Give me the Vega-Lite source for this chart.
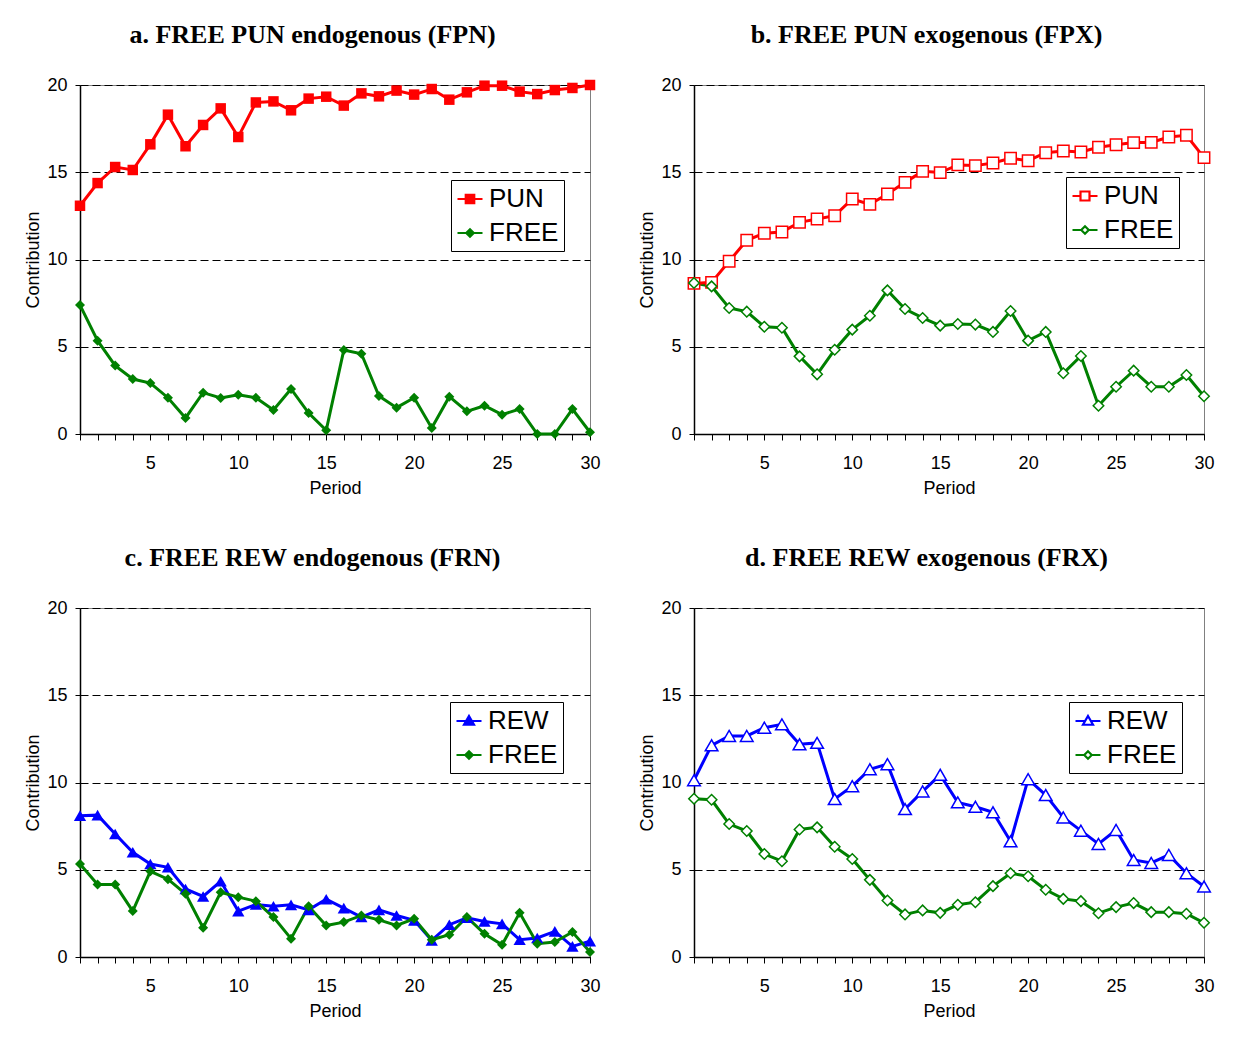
{
  "$schema": "https://vega.github.io/schema/vega-lite/v6.json",
  "padding": {"left": 24, "top": 21, "right": 10, "bottom": 10},
  "background": "white",
  "datasets": {
    "fpn": [
      {"p":1,"s":"PUN","v":13.08},{"p":2,"s":"PUN","v":14.38},{"p":3,"s":"PUN","v":15.3},{"p":4,"s":"PUN","v":15.13},{"p":5,"s":"PUN","v":16.6},{"p":6,"s":"PUN","v":18.3},{"p":7,"s":"PUN","v":16.49},{"p":8,"s":"PUN","v":17.71},{"p":9,"s":"PUN","v":18.66},{"p":10,"s":"PUN","v":17.02},
      {"p":11,"s":"PUN","v":19.0},{"p":12,"s":"PUN","v":19.06},{"p":13,"s":"PUN","v":18.55},{"p":14,"s":"PUN","v":19.22},{"p":15,"s":"PUN","v":19.33},{"p":16,"s":"PUN","v":18.82},{"p":17,"s":"PUN","v":19.52},{"p":18,"s":"PUN","v":19.35},{"p":19,"s":"PUN","v":19.68},{"p":20,"s":"PUN","v":19.45},
      {"p":21,"s":"PUN","v":19.77},{"p":22,"s":"PUN","v":19.16},{"p":23,"s":"PUN","v":19.58},{"p":24,"s":"PUN","v":19.96},{"p":25,"s":"PUN","v":19.96},{"p":26,"s":"PUN","v":19.62},{"p":27,"s":"PUN","v":19.48},{"p":28,"s":"PUN","v":19.71},{"p":29,"s":"PUN","v":19.83},{"p":30,"s":"PUN","v":20.0},
      {"p":1,"s":"FREE","v":7.39},{"p":2,"s":"FREE","v":5.35},{"p":3,"s":"FREE","v":3.92},{"p":4,"s":"FREE","v":3.15},{"p":5,"s":"FREE","v":2.92},{"p":6,"s":"FREE","v":2.08},{"p":7,"s":"FREE","v":0.92},{"p":8,"s":"FREE","v":2.37},{"p":9,"s":"FREE","v":2.06},{"p":10,"s":"FREE","v":2.25},
      {"p":11,"s":"FREE","v":2.08},{"p":12,"s":"FREE","v":1.38},{"p":13,"s":"FREE","v":2.58},{"p":14,"s":"FREE","v":1.2},{"p":15,"s":"FREE","v":0.21},{"p":16,"s":"FREE","v":4.81},{"p":17,"s":"FREE","v":4.6},{"p":18,"s":"FREE","v":2.18},{"p":19,"s":"FREE","v":1.51},{"p":20,"s":"FREE","v":2.08},
      {"p":21,"s":"FREE","v":0.34},{"p":22,"s":"FREE","v":2.14},{"p":23,"s":"FREE","v":1.3},{"p":24,"s":"FREE","v":1.62},{"p":25,"s":"FREE","v":1.11},{"p":26,"s":"FREE","v":1.43},{"p":27,"s":"FREE","v":0},{"p":28,"s":"FREE","v":0},{"p":29,"s":"FREE","v":1.43},{"p":30,"s":"FREE","v":0.1}
    ],
    "fpx": [
      {"p":1,"s":"PUN","v":8.63},{"p":2,"s":"PUN","v":8.69},{"p":3,"s":"PUN","v":9.9},{"p":4,"s":"PUN","v":11.1},{"p":5,"s":"PUN","v":11.5},{"p":6,"s":"PUN","v":11.58},{"p":7,"s":"PUN","v":12.13},{"p":8,"s":"PUN","v":12.32},{"p":9,"s":"PUN","v":12.51},{"p":10,"s":"PUN","v":13.47},
      {"p":11,"s":"PUN","v":13.16},{"p":12,"s":"PUN","v":13.75},{"p":13,"s":"PUN","v":14.42},{"p":14,"s":"PUN","v":15.05},{"p":15,"s":"PUN","v":14.98},{"p":16,"s":"PUN","v":15.42},{"p":17,"s":"PUN","v":15.38},{"p":18,"s":"PUN","v":15.53},{"p":19,"s":"PUN","v":15.8},{"p":20,"s":"PUN","v":15.66},
      {"p":21,"s":"PUN","v":16.12},{"p":22,"s":"PUN","v":16.22},{"p":23,"s":"PUN","v":16.16},{"p":24,"s":"PUN","v":16.43},{"p":25,"s":"PUN","v":16.58},{"p":26,"s":"PUN","v":16.7},{"p":27,"s":"PUN","v":16.71},{"p":28,"s":"PUN","v":17.02},{"p":29,"s":"PUN","v":17.12},{"p":30,"s":"PUN","v":15.84},
      {"p":1,"s":"FREE","v":8.65},{"p":2,"s":"FREE","v":8.46},{"p":3,"s":"FREE","v":7.22},{"p":4,"s":"FREE","v":7.01},{"p":5,"s":"FREE","v":6.15},{"p":6,"s":"FREE","v":6.09},{"p":7,"s":"FREE","v":4.45},{"p":8,"s":"FREE","v":3.42},{"p":9,"s":"FREE","v":4.83},{"p":10,"s":"FREE","v":5.98},
      {"p":11,"s":"FREE","v":6.78},{"p":12,"s":"FREE","v":8.23},{"p":13,"s":"FREE","v":7.16},{"p":14,"s":"FREE","v":6.65},{"p":15,"s":"FREE","v":6.21},{"p":16,"s":"FREE","v":6.3},{"p":17,"s":"FREE","v":6.27},{"p":18,"s":"FREE","v":5.85},{"p":19,"s":"FREE","v":7.05},{"p":20,"s":"FREE","v":5.35},
      {"p":21,"s":"FREE","v":5.85},{"p":22,"s":"FREE","v":3.48},{"p":23,"s":"FREE","v":4.47},{"p":24,"s":"FREE","v":1.62},{"p":25,"s":"FREE","v":2.71},{"p":26,"s":"FREE","v":3.63},{"p":27,"s":"FREE","v":2.71},{"p":28,"s":"FREE","v":2.71},{"p":29,"s":"FREE","v":3.38},{"p":30,"s":"FREE","v":2.16}
    ],
    "frn": [
      {"p":1,"s":"REW","v":8.1},{"p":2,"s":"REW","v":8.13},{"p":3,"s":"REW","v":7.05},{"p":4,"s":"REW","v":6.0},{"p":5,"s":"REW","v":5.33},{"p":6,"s":"REW","v":5.14},{"p":7,"s":"REW","v":3.9},{"p":8,"s":"REW","v":3.47},{"p":9,"s":"REW","v":4.34},{"p":10,"s":"REW","v":2.63},
      {"p":11,"s":"REW","v":3.01},{"p":12,"s":"REW","v":2.91},{"p":13,"s":"REW","v":2.99},{"p":14,"s":"REW","v":2.7},{"p":15,"s":"REW","v":3.31},{"p":16,"s":"REW","v":2.8},{"p":17,"s":"REW","v":2.29},{"p":18,"s":"REW","v":2.7},{"p":19,"s":"REW","v":2.38},{"p":20,"s":"REW","v":2.1},
      {"p":21,"s":"REW","v":0.95},{"p":22,"s":"REW","v":1.85},{"p":23,"s":"REW","v":2.25},{"p":24,"s":"REW","v":2.04},{"p":25,"s":"REW","v":1.9},{"p":26,"s":"REW","v":0.99},{"p":27,"s":"REW","v":1.09},{"p":28,"s":"REW","v":1.47},{"p":29,"s":"REW","v":0.61},{"p":30,"s":"REW","v":0.91},
      {"p":1,"s":"FREE","v":5.33},{"p":2,"s":"FREE","v":4.15},{"p":3,"s":"FREE","v":4.15},{"p":4,"s":"FREE","v":2.63},{"p":5,"s":"FREE","v":4.91},{"p":6,"s":"FREE","v":4.46},{"p":7,"s":"FREE","v":3.62},{"p":8,"s":"FREE","v":1.68},{"p":9,"s":"FREE","v":3.71},{"p":10,"s":"FREE","v":3.43},
      {"p":11,"s":"FREE","v":3.2},{"p":12,"s":"FREE","v":2.29},{"p":13,"s":"FREE","v":1.05},{"p":14,"s":"FREE","v":2.91},{"p":15,"s":"FREE","v":1.8},{"p":16,"s":"FREE","v":2.0},{"p":17,"s":"FREE","v":2.38},{"p":18,"s":"FREE","v":2.13},{"p":19,"s":"FREE","v":1.81},{"p":20,"s":"FREE","v":2.19},
      {"p":21,"s":"FREE","v":0.99},{"p":22,"s":"FREE","v":1.28},{"p":23,"s":"FREE","v":2.29},{"p":24,"s":"FREE","v":1.33},{"p":25,"s":"FREE","v":0.7},{"p":26,"s":"FREE","v":2.53},{"p":27,"s":"FREE","v":0.76},{"p":28,"s":"FREE","v":0.86},{"p":29,"s":"FREE","v":1.43},{"p":30,"s":"FREE","v":0.29}
    ],
    "frx": [
      {"p":1,"s":"REW","v":10.13},{"p":2,"s":"REW","v":12.13},{"p":3,"s":"REW","v":12.67},{"p":4,"s":"REW","v":12.67},{"p":5,"s":"REW","v":13.14},{"p":6,"s":"REW","v":13.33},{"p":7,"s":"REW","v":12.19},{"p":8,"s":"REW","v":12.27},{"p":9,"s":"REW","v":9.05},{"p":10,"s":"REW","v":9.79},
      {"p":11,"s":"REW","v":10.76},{"p":12,"s":"REW","v":11.05},{"p":13,"s":"REW","v":8.48},{"p":14,"s":"REW","v":9.49},{"p":15,"s":"REW","v":10.44},{"p":16,"s":"REW","v":8.86},{"p":17,"s":"REW","v":8.61},{"p":18,"s":"REW","v":8.29},{"p":19,"s":"REW","v":6.63},{"p":20,"s":"REW","v":10.19},
      {"p":21,"s":"REW","v":9.28},{"p":22,"s":"REW","v":8.0},{"p":23,"s":"REW","v":7.24},{"p":24,"s":"REW","v":6.48},{"p":25,"s":"REW","v":7.28},{"p":26,"s":"REW","v":5.56},{"p":27,"s":"REW","v":5.39},{"p":28,"s":"REW","v":5.85},{"p":29,"s":"REW","v":4.8},{"p":30,"s":"REW","v":4.04},
      {"p":1,"s":"FREE","v":9.07},{"p":2,"s":"FREE","v":9.01},{"p":3,"s":"FREE","v":7.62},{"p":4,"s":"FREE","v":7.22},{"p":5,"s":"FREE","v":5.9},{"p":6,"s":"FREE","v":5.49},{"p":7,"s":"FREE","v":7.31},{"p":8,"s":"FREE","v":7.43},{"p":9,"s":"FREE","v":6.32},{"p":10,"s":"FREE","v":5.62},
      {"p":11,"s":"FREE","v":4.42},{"p":12,"s":"FREE","v":3.24},{"p":13,"s":"FREE","v":2.44},{"p":14,"s":"FREE","v":2.67},{"p":15,"s":"FREE","v":2.53},{"p":16,"s":"FREE","v":2.99},{"p":17,"s":"FREE","v":3.14},{"p":18,"s":"FREE","v":4.06},{"p":19,"s":"FREE","v":4.8},{"p":20,"s":"FREE","v":4.63},
      {"p":21,"s":"FREE","v":3.85},{"p":22,"s":"FREE","v":3.33},{"p":23,"s":"FREE","v":3.2},{"p":24,"s":"FREE","v":2.51},{"p":25,"s":"FREE","v":2.86},{"p":26,"s":"FREE","v":3.09},{"p":27,"s":"FREE","v":2.57},{"p":28,"s":"FREE","v":2.57},{"p":29,"s":"FREE","v":2.48},{"p":30,"s":"FREE","v":1.96}
    ]
  },
  "spacing": 46,
  "resolve": {"scale": {"fill": "independent", "stroke": "independent", "shape": "independent"}, "legend": {"fill": "independent", "stroke": "independent", "shape": "independent"}},
  "vconcat": [
    {
      "spacing": 37,
      "resolve": {"scale": {"fill": "independent", "stroke": "independent", "shape": "independent"}, "legend": {"fill": "independent", "stroke": "independent", "shape": "independent"}},
      "hconcat": [
        {
          "title": "a. FREE PUN endogenous (FPN)",
          "width": 510, "height": 349,
          "data": {"name": "fpn"},
          "encoding": {
            "x": {"field": "p", "type": "quantitative", "title": "Period", "scale": {"domain": [1, 30], "nice": false, "zero": false},
                  "axis": {"values": [1,2,3,4,5,6,7,8,9,10,11,12,13,14,15,16,17,18,19,20,21,22,23,24,25,26,27,28,29,30], "labelExpr": "datum.value % 5 === 0 ? datum.label : ''"}},
            "y": {"field": "v", "type": "quantitative", "title": "Contribution", "scale": {"domain": [0, 20], "nice": false}, "axis": {"values": [0, 5, 10, 15, 20]}}
          },
          "layer": [
            {"transform": [{"filter": "datum.s === 'FREE'"}], "mark": {"type": "line", "strokeWidth": 3, "color": "#008000"}, "encoding": {}},
            {"transform": [{"filter": "datum.s === 'PUN'"}], "mark": {"type": "line", "strokeWidth": 3, "color": "#ff0000"}, "encoding": {}},
            {"transform": [{"filter": "datum.s === 'PUN'"}], "mark": {"type": "point", "shape": "square", "filled": true, "color": "#ff0000", "size": 110, "opacity": 1}},
            {"transform": [{"filter": "datum.s === 'FREE'"}], "mark": {"type": "point", "shape": "diamond", "filled": true, "color": "#008000", "size": 100, "opacity": 1}},
            {"mark": {"type": "point", "filled": true, "size": 0, "strokeWidth": 2.2, "opacity": 1},
             "encoding": {
               "fill": {"field": "s", "type": "nominal", "scale": {"domain": ["PUN", "FREE"], "range": ["#ff0000", "#008000"]},
                        "legend": {"title": null, "orient": "none", "legendX": 371, "legendY": 95, "symbolSize": 625, "symbolOpacity": 1}},
               "stroke": {"field": "s", "type": "nominal", "scale": {"domain": ["PUN", "FREE"], "range": ["#ff0000", "#008000"]},
                        "legend": {"title": null, "orient": "none", "legendX": 371, "legendY": 95, "symbolSize": 625, "symbolOpacity": 1}},
               "shape": {"field": "s", "type": "nominal", "scale": {"domain": ["PUN", "FREE"], "range": ["M-1,0H1M-0.34,-0.34H0.34V0.34H-0.34Z", "M-1,0H1M0,-0.3L0.3,0L0,0.3L-0.3,0Z"]},
                        "legend": {"title": null, "orient": "none", "legendX": 371, "legendY": 95, "symbolSize": 625, "symbolOpacity": 1}}
             }}
          ]
        },
        {
          "title": "b. FREE PUN exogenous (FPX)",
          "width": 510, "height": 349,
          "data": {"name": "fpx"},
          "encoding": {
            "x": {"field": "p", "type": "quantitative", "title": "Period", "scale": {"domain": [1, 30], "nice": false, "zero": false},
                  "axis": {"values": [1,2,3,4,5,6,7,8,9,10,11,12,13,14,15,16,17,18,19,20,21,22,23,24,25,26,27,28,29,30], "labelExpr": "datum.value % 5 === 0 ? datum.label : ''"}},
            "y": {"field": "v", "type": "quantitative", "title": "Contribution", "scale": {"domain": [0, 20], "nice": false}, "axis": {"values": [0, 5, 10, 15, 20]}}
          },
          "layer": [
            {"transform": [{"filter": "datum.s === 'FREE'"}], "mark": {"type": "line", "strokeWidth": 3, "color": "#008000"}, "encoding": {}},
            {"transform": [{"filter": "datum.s === 'PUN'"}], "mark": {"type": "line", "strokeWidth": 3, "color": "#ff0000"}, "encoding": {}},
            {"transform": [{"filter": "datum.s === 'PUN'"}], "mark": {"type": "point", "shape": "square", "filled": false, "fill": "white", "stroke": "#ff0000", "strokeWidth": 1.5, "size": 130, "opacity": 1}},
            {"transform": [{"filter": "datum.s === 'FREE'"}], "mark": {"type": "point", "shape": "diamond", "filled": false, "fill": "white", "stroke": "#008000", "strokeWidth": 1.5, "size": 110, "opacity": 1}},
            {"mark": {"type": "point", "filled": false, "fill": "white", "size": 0, "strokeWidth": 2, "opacity": 1},
             "encoding": {
               "stroke": {"field": "s", "type": "nominal", "scale": {"domain": ["PUN", "FREE"], "range": ["#ff0000", "#008000"]},
                        "legend": {"title": null, "orient": "none", "legendX": 372, "legendY": 92, "symbolSize": 625, "symbolOpacity": 1, "symbolFillColor": "white"}},
               "shape": {"field": "s", "type": "nominal", "scale": {"domain": ["PUN", "FREE"], "range": ["M-1,0H-0.36M0.36,0H1M-0.36,-0.36H0.36V0.36H-0.36Z", "M-1,0H-0.3M0.3,0H1M0,-0.3L0.3,0L0,0.3L-0.3,0Z"]},
                        "legend": {"title": null, "orient": "none", "legendX": 372, "legendY": 92, "symbolSize": 625, "symbolOpacity": 1, "symbolFillColor": "white"}}
             }}
          ]
        }
      ]
    },
    {
      "spacing": 37,
      "resolve": {"scale": {"fill": "independent", "stroke": "independent", "shape": "independent"}, "legend": {"fill": "independent", "stroke": "independent", "shape": "independent"}},
      "hconcat": [
        {
          "title": "c. FREE REW endogenous (FRN)",
          "width": 510, "height": 349,
          "data": {"name": "frn"},
          "encoding": {
            "x": {"field": "p", "type": "quantitative", "title": "Period", "scale": {"domain": [1, 30], "nice": false, "zero": false},
                  "axis": {"values": [1,2,3,4,5,6,7,8,9,10,11,12,13,14,15,16,17,18,19,20,21,22,23,24,25,26,27,28,29,30], "labelExpr": "datum.value % 5 === 0 ? datum.label : ''"}},
            "y": {"field": "v", "type": "quantitative", "title": "Contribution", "scale": {"domain": [0, 20], "nice": false}, "axis": {"values": [0, 5, 10, 15, 20]}}
          },
          "layer": [
            {"transform": [{"filter": "datum.s === 'REW'"}], "mark": {"type": "line", "strokeWidth": 3, "color": "#0000ff"}, "encoding": {}},
            {"transform": [{"filter": "datum.s === 'FREE'"}], "mark": {"type": "line", "strokeWidth": 3, "color": "#008000"}, "encoding": {}},
            {"transform": [{"filter": "datum.s === 'REW'"}], "mark": {"type": "point", "shape": "triangle-up", "filled": true, "color": "#0000ff", "size": 150, "opacity": 1}},
            {"transform": [{"filter": "datum.s === 'FREE'"}], "mark": {"type": "point", "shape": "diamond", "filled": true, "color": "#008000", "size": 100, "opacity": 1}},
            {"mark": {"type": "point", "filled": true, "size": 0, "strokeWidth": 2.2, "opacity": 1},
             "encoding": {
               "fill": {"field": "s", "type": "nominal", "scale": {"domain": ["REW", "FREE"], "range": ["#0000ff", "#008000"]},
                        "legend": {"title": null, "orient": "none", "legendX": 370, "legendY": 94, "symbolSize": 625, "symbolOpacity": 1}},
               "stroke": {"field": "s", "type": "nominal", "scale": {"domain": ["REW", "FREE"], "range": ["#0000ff", "#008000"]},
                        "legend": {"title": null, "orient": "none", "legendX": 370, "legendY": 94, "symbolSize": 625, "symbolOpacity": 1}},
               "shape": {"field": "s", "type": "nominal", "scale": {"domain": ["REW", "FREE"], "range": ["M-1,0H1M0,-0.4L0.4,0.3H-0.4Z", "M-1,0H1M0,-0.3L0.3,0L0,0.3L-0.3,0Z"]},
                        "legend": {"title": null, "orient": "none", "legendX": 370, "legendY": 94, "symbolSize": 625, "symbolOpacity": 1}}
             }}
          ]
        },
        {
          "title": "d. FREE REW exogenous (FRX)",
          "width": 510, "height": 349,
          "data": {"name": "frx"},
          "encoding": {
            "x": {"field": "p", "type": "quantitative", "title": "Period", "scale": {"domain": [1, 30], "nice": false, "zero": false},
                  "axis": {"values": [1,2,3,4,5,6,7,8,9,10,11,12,13,14,15,16,17,18,19,20,21,22,23,24,25,26,27,28,29,30], "labelExpr": "datum.value % 5 === 0 ? datum.label : ''"}},
            "y": {"field": "v", "type": "quantitative", "title": "Contribution", "scale": {"domain": [0, 20], "nice": false}, "axis": {"values": [0, 5, 10, 15, 20]}}
          },
          "layer": [
            {"transform": [{"filter": "datum.s === 'FREE'"}], "mark": {"type": "line", "strokeWidth": 3, "color": "#008000"}, "encoding": {}},
            {"transform": [{"filter": "datum.s === 'REW'"}], "mark": {"type": "line", "strokeWidth": 3, "color": "#0000ff"}, "encoding": {}},
            {"transform": [{"filter": "datum.s === 'REW'"}], "mark": {"type": "point", "shape": "triangle-up", "filled": false, "fill": "white", "stroke": "#0000ff", "strokeWidth": 1.5, "size": 160, "opacity": 1}},
            {"transform": [{"filter": "datum.s === 'FREE'"}], "mark": {"type": "point", "shape": "diamond", "filled": false, "fill": "white", "stroke": "#008000", "strokeWidth": 1.5, "size": 110, "opacity": 1}},
            {"mark": {"type": "point", "filled": false, "fill": "white", "size": 0, "strokeWidth": 2, "opacity": 1},
             "encoding": {
               "stroke": {"field": "s", "type": "nominal", "scale": {"domain": ["REW", "FREE"], "range": ["#0000ff", "#008000"]},
                        "legend": {"title": null, "orient": "none", "legendX": 375, "legendY": 94, "symbolSize": 625, "symbolOpacity": 1, "symbolFillColor": "white"}},
               "shape": {"field": "s", "type": "nominal", "scale": {"domain": ["REW", "FREE"], "range": ["M-1,0H-0.22M0.22,0H1M0,-0.4L0.4,0.3H-0.4Z", "M-1,0H-0.3M0.3,0H1M0,-0.3L0.3,0L0,0.3L-0.3,0Z"]},
                        "legend": {"title": null, "orient": "none", "legendX": 375, "legendY": 94, "symbolSize": 625, "symbolOpacity": 1, "symbolFillColor": "white"}}
             }}
          ]
        }
      ]
    }
  ],
  "config": {
    "font": "Liberation Sans",
    "view": {"stroke": "#808080", "strokeWidth": 1},
    "title": {"font": "Liberation Serif", "fontSize": 26, "fontWeight": "bold", "color": "black", "frame": "bounds", "anchor": "middle", "offset": 28},
    "axis": {"labelFont": "Liberation Sans", "labelFontSize": 18, "labelColor": "black", "titleFont": "Liberation Sans", "titleFontSize": 18, "titleFontWeight": "normal", "titleColor": "black", "domainColor": "black", "domainWidth": 1.5, "tickColor": "black", "tickWidth": 1},
    "axisX": {"grid": false, "tickSize": 6, "labelPadding": 14, "titlePadding": 7, "labelAngle": 0, "labelFlush": false},
    "axisY": {"grid": true, "gridColor": "black", "gridDash": [8, 4], "gridOpacity": 1, "gridWidth": 1, "tickSize": 5, "labelPadding": 8, "titlePadding": 4},
    "legend": {"labelFont": "Liberation Sans", "labelFontSize": 26, "labelColor": "black", "strokeColor": "black", "fillColor": "white", "padding": 5, "symbolSize": 625, "symbolStrokeWidth": 2.2, "rowPadding": 7, "labelOffset": 5}
  }
}
